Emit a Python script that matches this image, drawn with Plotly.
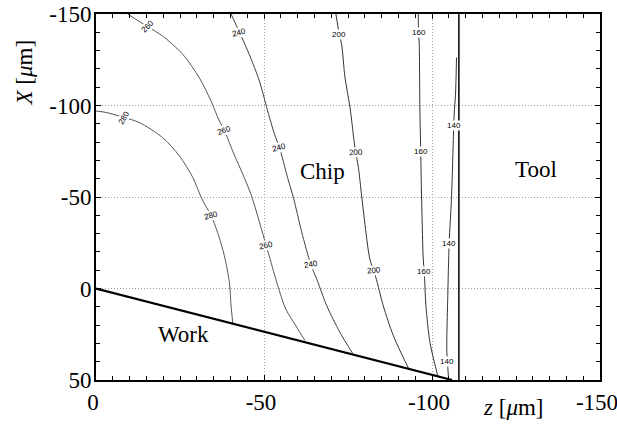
import plotly.graph_objects as go

# ---- data ----
levels = [280, 260, 240, 200, 160, 140]

lvl280_z = [0, -3, -8.4, -12.9, -19.8, -24.8, -28.8, -31.5, -34.2, -36.2, -38.2, -39.7, -40.2, -40.7]
lvl280_X = [-97, -96.2, -93.4, -90.7, -82.5, -72.5, -60.7, -49, -40, -30.6, -17.9, -3.3, 9.5, 18.8]

lvl260_z = [-9.4, -15.4, -19.8, -25.8, -30.8, -34.2, -36.7, -38.2, -40.7, -44.1, -46.4, -50.6, -52.1, -54.1, -56.5, -59.5, -62.2]
lvl260_X = [-150, -143, -138, -128, -115, -102.6, -91.6, -86.5, -75, -60.7, -50, -23.7, -14.2, -1.5, 11.3, 20.4, 28.5]

lvl240_z = [-40.2, -42.7, -45.6, -48.6, -51.1, -53.1, -54.6, -57.0, -58.8, -61.2, -63.9, -65.7, -68.7, -72.6, -76.4]
lvl240_X = [-150, -140, -128, -113.5, -97, -84.4, -77, -60.7, -49.3, -31, -13.3, -5.1, 9.5, 24, 35.5]

lvl200_z = [-71.4, -72.4, -73.1, -74.1, -75.6, -76.8, -77.3, -78.1, -79.1, -81.5, -82.7, -83.7, -85.5, -88.5, -93]
lvl200_X = [-150, -139, -133.5, -115.3, -98.9, -80.7, -74.3, -66.1, -50, -16.1, -9.7, -3.3, 9.5, 25.8, 43.6]

lvl160_z = [-95.9, -96.0, -96.2, -96.4, -96.6, -96.9, -97.4, -97.7, -98.2, -99.4, -101.7]
lvl160_X = [-150, -140, -133.5, -97, -78.9, -50, -16.1, -9.1, 9.5, 29.5, 47.6]

lvl140_z = [-107.3, -107.0, -106.6, -106.4, -105.8, -105.1, -104.7, -104.4, -104.6, -104.9]
lvl140_X = [-126.2, -106.2, -95.3, -84.4, -49.7, -24.6, 4, 33.1, 39.9, 48.6]

# contour label positions (level, z, X)
label_level = [260, 260, 260, 280, 280, 240, 240, 240, 200, 200, 200, 160, 160, 160, 140, 140, 140]
label_z = [-15.4, -38.2, -50.6, -8.4, -34.2, -42.7, -54.6, -63.9, -72.4, -77.3, -82.7, -96.0, -96.7, -97.7, -106.5, -105.1, -104.6]
label_X = [-143, -86.5, -23.7, -93.4, -40, -140, -77, -13.3, -139, -74.3, -9.7, -140, -74.7, -9.1, -89.3, -24.6, 39.9]
label_angle = [-45, -20, -12, -60, -15, -15, -15, -10, 0, -3, -5, 0, 0, 0, 0, 0, 0]

work_z = [0, -106]
work_X = [0, 50]
tool_z = [-108, -108]
tool_X = [-150, 50]

region_names = ["Chip", "Tool", "Work"]
region_z = [-67.3, -131.0, -25.9]
region_X = [-63.7, -64.8, 25.3]

x_ticks = [0, -50, -100, -150]
y_ticks = [-150, -100, -50, 0, 50]

# ---- figure ----
fig = go.Figure()
curves = [(lvl280_z, lvl280_X), (lvl260_z, lvl260_X), (lvl240_z, lvl240_X),
          (lvl200_z, lvl200_X), (lvl160_z, lvl160_X), (lvl140_z, lvl140_X)]
colors = ["#555555", "#555555", "#404040", "#333333", "#333333", "#333333"]
for (zz, xx), c in zip(curves, colors):
    fig.add_trace(go.Scatter(x=zz, y=xx, mode="lines",
                             line=dict(color=c, width=1, shape="spline", smoothing=0.8),
                             hoverinfo="skip", showlegend=False))

fig.add_trace(go.Scatter(x=work_z, y=work_X, mode="lines",
                         line=dict(color="black", width=2.2), showlegend=False))
fig.add_trace(go.Scatter(x=tool_z, y=tool_X, mode="lines",
                         line=dict(color="black", width=1.5), showlegend=False))

for lv, zz, xx, ang in zip(label_level, label_z, label_X, label_angle):
    fig.add_annotation(x=zz, y=xx, text=str(lv), showarrow=False, textangle=ang,
                       xanchor="center", yanchor="middle",
                       font=dict(family="Liberation Sans", size=8, color="black"),
                       bgcolor="white", borderpad=0)

for name, zz, xx in zip(region_names, region_z, region_X):
    fig.add_annotation(x=zz, y=xx, text=name, showarrow=False,
                       xanchor="center", yanchor="middle",
                       font=dict(family="Liberation Serif", size=23, color="black"),
                       bgcolor="white" if name == "Work" else "rgba(0,0,0,0)")

serif = dict(family="Liberation Serif", size=23, color="black")

fig.add_annotation(xref="paper", yref="paper", x=0.827, y=-0.075,
                   xanchor="center", yanchor="middle",
                   text="<i>z</i> [<i>μ</i>m]", showarrow=False, font=serif)
fig.add_annotation(xref="paper", yref="paper", x=-0.141, y=0.84,
                   xanchor="center", yanchor="middle",
                   text="<i>X</i> [<i>μ</i>m]", showarrow=False, font=serif, textangle=-90)

axis_common = dict(showline=True, linecolor="black", linewidth=2, mirror="allticks",
                   ticks="inside", ticklen=5, tickcolor="black", tickwidth=1,
                   showgrid=True, gridcolor="#a0a0a0", griddash="1px,2px", gridwidth=1,
                   zeroline=False, tickfont=serif, automargin=False,
                   ticklabeloverflow="allow")

fig.update_xaxes(range=[0, -150], tickvals=x_ticks, ticktext=[str(v) for v in x_ticks],
                 ticklabelshift=3, ticklabelstandoff=0,
                 minor=dict(dtick=5, ticks="inside", ticklen=4, tickcolor="black", showgrid=False),
                 **axis_common)
fig.update_yaxes(range=[50, -150], tickvals=y_ticks, ticktext=[str(v) for v in y_ticks],
                 ticklabelstandoff=-2,
                 minor=dict(dtick=10, ticks="inside", ticklen=4, tickcolor="black", showgrid=False),
                 **axis_common)

fig.update_layout(width=617, height=428, margin=dict(l=96, r=17, t=14, b=48),
                  paper_bgcolor="white", plot_bgcolor="white", showlegend=False)

fig.write_html("out.html", config={"displayModeBar": False},
               post_script="document.body.style.margin='0';")
